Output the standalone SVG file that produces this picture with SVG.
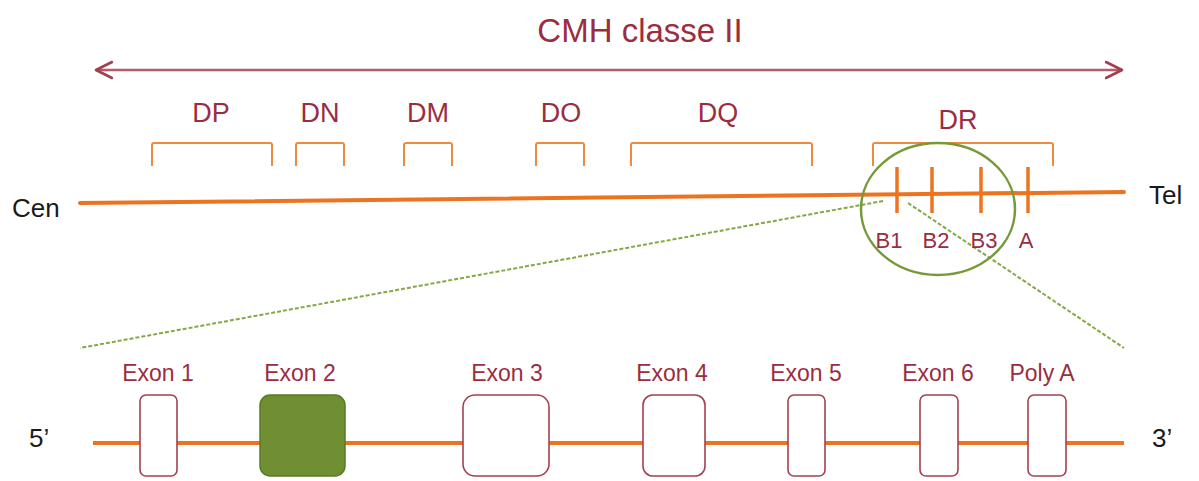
<svg xmlns="http://www.w3.org/2000/svg" width="1199" height="481" viewBox="0 0 1199 481">
<defs>
<style>
.lbl{font-family:"Liberation Sans",Arial,sans-serif;fill:#9b2d3f;text-anchor:middle}
.blk{font-family:"Liberation Sans",Arial,sans-serif;fill:#1a1a1a;font-size:26px}
.br{fill:none;stroke:#f08a3c;stroke-width:2;stroke-linejoin:round}
.tick{stroke:#ec7420;stroke-width:3.5}
.chr{stroke:#ec7420;stroke-width:4;fill:none;stroke-linecap:round}
.exon{fill:#ffffff;stroke:#a5404f;stroke-width:1.6}
.dash{stroke:#86a745;stroke-width:2;stroke-dasharray:4 2;fill:none}
</style>
<marker id="chev" viewBox="0 0 20 20" refX="17" refY="10" markerWidth="20" markerHeight="20" markerUnits="userSpaceOnUse" orient="auto-start-reverse">
<path d="M1,2 L17,10 L1,18" fill="none" stroke="#a03f50" stroke-width="2.6" stroke-linecap="round" stroke-linejoin="round"/>
</marker>
</defs>
<rect width="1199" height="481" fill="#ffffff"/>

<g id="title">
<text class="lbl" x="640" y="42" font-size="33">CMH classe II</text>
</g>

<g id="connectors">
<line x1="96" y1="70" x2="1122" y2="70" stroke="#b45a68" stroke-width="2.5" marker-start="url(#chev)" marker-end="url(#chev)"/>
<line class="dash" x1="883" y1="201" x2="80" y2="348"/>
<line class="dash" x1="908" y1="203" x2="1124" y2="348"/>
</g>

<g id="chromosome">
<line class="chr" x1="80" y1="203" x2="1124" y2="192"/>
<text class="blk" x="12" y="217">Cen</text>
<text class="blk" x="1149" y="204">Tel</text>
</g>

<g id="loci">
<g id="DP"><text class="lbl" x="211" y="122" font-size="27">DP</text><path class="br" d="M152,166 V145 Q152,143 154,143 H270 Q272,143 272,145 V166"/></g>
<g id="DN"><text class="lbl" x="320" y="122" font-size="27">DN</text><path class="br" d="M296,166 V145 Q296,143 298,143 H342 Q344,143 344,145 V166"/></g>
<g id="DM"><text class="lbl" x="428" y="122" font-size="27">DM</text><path class="br" d="M404,166 V145 Q404,143 406,143 H450 Q452,143 452,145 V166"/></g>
<g id="DO"><text class="lbl" x="561" y="122" font-size="27">DO</text><path class="br" d="M536,166 V145 Q536,143 538,143 H582 Q584,143 584,145 V166"/></g>
<g id="DQ"><text class="lbl" x="718" y="122" font-size="27">DQ</text><path class="br" d="M631,166 V145 Q631,143 633,143 H810 Q812,143 812,145 V166"/></g>
<g id="DR"><text class="lbl" x="958" y="129" font-size="27">DR</text><path class="br" d="M873,166 V145 Q873,143 875,143 H1051 Q1053,143 1053,145 V166"/></g>
</g>

<g id="DR-genes">
<line class="tick" x1="897" y1="167" x2="897" y2="213"/>
<line class="tick" x1="932" y1="167" x2="932" y2="213"/>
<line class="tick" x1="981" y1="167" x2="981" y2="213"/>
<line class="tick" x1="1028" y1="167" x2="1028" y2="213"/>
<text class="lbl" x="889" y="248" font-size="22">B1</text>
<text class="lbl" x="936" y="248" font-size="22">B2</text>
<text class="lbl" x="984" y="248" font-size="22">B3</text>
<text class="lbl" x="1026" y="248" font-size="22">A</text>
</g>

<g id="zoom-circle">
<ellipse cx="938" cy="209" rx="77" ry="66" fill="none" stroke="#76993a" stroke-width="2.5"/>
</g>

<g id="gene">
<line x1="93" y1="443" x2="1124" y2="443" stroke="#ec7420" stroke-width="4"/>
<text class="blk" x="29" y="447">5’</text>
<text class="blk" x="1152" y="447">3’</text>
</g>

<g id="exon1"><rect class="exon" x="140" y="395" width="37" height="81" rx="6"/><text class="lbl" x="158" y="381" font-size="23">Exon 1</text></g>
<g id="exon2"><rect x="260" y="395" width="85" height="81" rx="10" fill="#6f8f32" stroke="#5b7a28" stroke-width="1.5"/><text class="lbl" x="300" y="381" font-size="23">Exon 2</text></g>
<g id="exon3"><rect class="exon" x="463" y="395" width="86" height="81" rx="12"/><text class="lbl" x="507" y="381" font-size="23">Exon 3</text></g>
<g id="exon4"><rect class="exon" x="643" y="395" width="62" height="81" rx="10"/><text class="lbl" x="672" y="381" font-size="23">Exon 4</text></g>
<g id="exon5"><rect class="exon" x="788" y="395" width="37" height="81" rx="6"/><text class="lbl" x="806" y="381" font-size="23">Exon 5</text></g>
<g id="exon6"><rect class="exon" x="920" y="395" width="38" height="81" rx="6"/><text class="lbl" x="938" y="381" font-size="23">Exon 6</text></g>
<g id="polyA"><rect class="exon" x="1028" y="395" width="38" height="81" rx="6"/><text class="lbl" x="1042" y="381" font-size="23">Poly A</text></g>
</svg>
